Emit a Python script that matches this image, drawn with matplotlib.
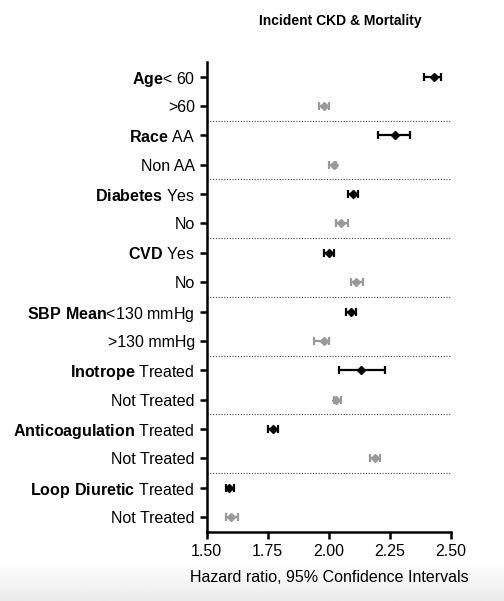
import numpy as np
import matplotlib
matplotlib.use("Agg")
import matplotlib.pyplot as plt

plt.rcParams["font.family"] = ["Liberation Sans", "DejaVu Sans"]
plt.rcParams["mathtext.fontset"] = "custom"
plt.rcParams["mathtext.rm"] = "Liberation Sans"
plt.rcParams["mathtext.bf"] = "Liberation Sans:bold"

labels = [r"$\mathbf{Age}$< 60", ">60",
          r"$\mathbf{Race}$ AA", "Non AA",
          r"$\mathbf{Diabetes}$ Yes", "No",
          r"$\mathbf{CVD}$ Yes", "No",
          r"$\mathbf{SBP\ Mean}$<130 mmHg", ">130 mmHg",
          r"$\mathbf{Inotrope}$ Treated", "Not Treated",
          r"$\mathbf{Anticoagulation}$ Treated", "Not Treated",
          r"$\mathbf{Loop\ Diuretic}$ Treated", "Not Treated"]
hr = [2.43, 1.98, 2.27, 2.02, 2.10, 2.05, 2.00, 2.11,
      2.09, 1.98, 2.13, 2.03, 1.77, 2.19, 1.59, 1.60]
lo = [2.39, 1.96, 2.20, 2.00, 2.08, 2.03, 1.98, 2.09,
      2.07, 1.94, 2.04, 2.02, 1.75, 2.17, 1.58, 1.58]
hi = [2.46, 2.00, 2.33, 2.03, 2.12, 2.08, 2.02, 2.14,
      2.11, 2.00, 2.23, 2.05, 1.79, 2.21, 1.61, 1.63]

fig = plt.figure(figsize=(5.04, 6.01), dpi=100)

# faint grey band at the bottom of the picture
bg = fig.add_axes([0, 0, 1, 0.065], zorder=-10)
grad = np.linspace(1.0, 0.92, 50).reshape(-1, 1)
bg.imshow(grad, cmap="gray", vmin=0, vmax=1, aspect="auto", extent=[0, 1, 0, 1])
bg.axis("off")

ax = fig.add_axes([0.410, 0.115, 0.485, 0.782])
ax.patch.set_alpha(0)

for i in range(len(hr)):
    col = "black" if i % 2 == 0 else "#9a9a9a"
    ax.errorbar(hr[i], i, xerr=[[hr[i] - lo[i]], [hi[i] - hr[i]]], fmt="D",
                color=col, ms=4, elinewidth=1.6, capsize=3, capthick=1.6)

for k in range(1, 8):
    ax.axhline(2 * k - 0.5, color="#444444", lw=0.8, ls=(0, (1, 1.5)))

ax.set_xlim(1.5, 2.5)
ax.set_ylim(15.5, -0.5)
ax.set_xticks([1.5, 1.75, 2.0, 2.25, 2.5])
ax.set_xticklabels(["1.50", "1.75", "2.00", "2.25", "2.50"])
ax.set_yticks(range(len(labels)))
ax.set_yticklabels(labels)
ax.tick_params(labelsize=11.5, width=1.8, length=5, direction="out")
ax.spines["top"].set_visible(False)
ax.spines["right"].set_visible(False)
ax.spines["left"].set_linewidth(1.8)
ax.spines["bottom"].set_linewidth(1.8)
ax.set_xlabel("Hazard ratio, 95% Confidence Intervals", fontsize=11.5, labelpad=8)

fig.text(0.675, 0.965, "Incident CKD & Mortality", fontsize=10, fontweight="bold",
         ha="center", va="center")

fig.savefig("out.png", dpi=100)
